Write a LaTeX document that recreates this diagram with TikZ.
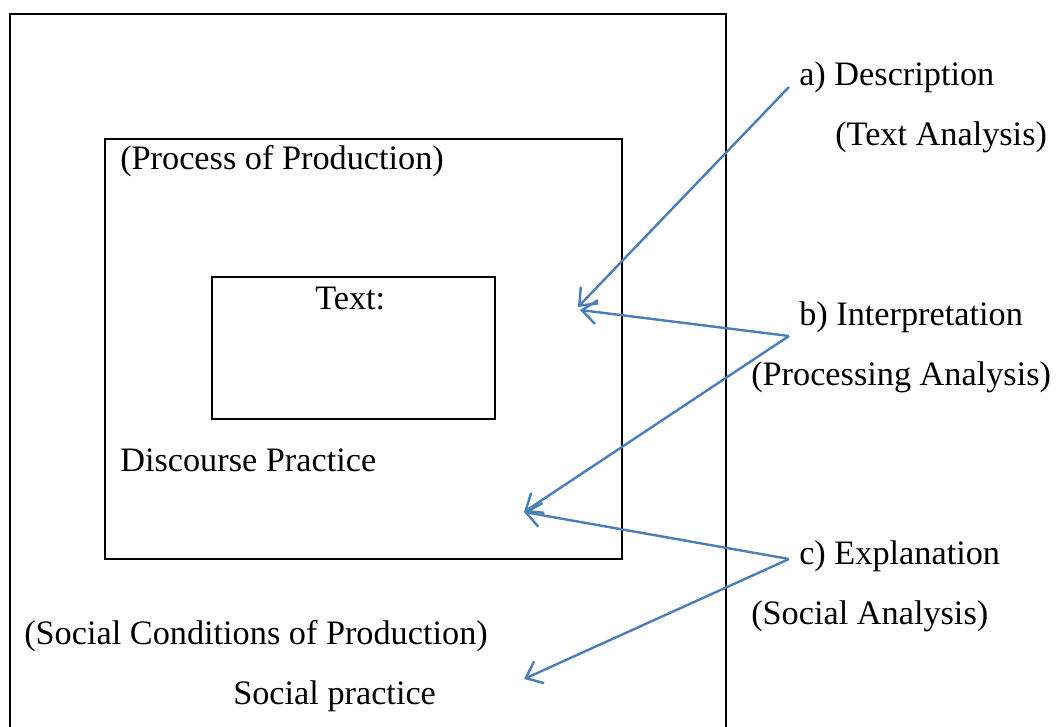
\documentclass[tikz,border=0pt]{standalone}
\usepackage{fontspec}
\setmainfont{Liberation Serif}
\usetikzlibrary{arrows.meta}
\definecolor{arrowblue}{HTML}{4A7EBB}
\tikzset{
    lbl/.style={anchor=base west,inner sep=0pt,font=\fontsize{25.7}{30}\selectfont},
    box/.style={draw,line width=1.7pt},
    pointer/.style={draw=arrowblue,line width=1.8pt,-{Straight Barb[length=11pt,width=18pt,line width=1.8pt]}}
}
\begin{document}
\begin{tikzpicture}[x=0.75pt,y=-0.75pt]
                \useasboundingbox (0,0) rectangle (1057,727);

                % the three frames
                \draw[box] (10,727) -- (10,14) -- (726,14) -- (726,727);
                \draw[box] (105,139) rectangle (622,559);
                \draw[box] (212,277) rectangle (495,419);

                % texts inside the frames
                \node[lbl] (prod) at (120,170) {(Process of Production)};
                \node[lbl] (txt) at (315,310) {Text:};
                \node[lbl] (disc) at (120,471) {Discourse Practice};
                \node[lbl] (cond) at (24,644) {(Social Conditions of Production)};
                \node[lbl] (soc) at (233,704) {Social practice};

                % the three stages
                \node[lbl] (desc) at (799,86) {a) Description};
                \node[lbl] (desca) at (835,146) {(Text Analysis)};
                \node[lbl] (interp) at (799,326) {b) Interpretation};
                \node[lbl] (interpa) at (751,385) {(Processing Analysis)};
                \node[lbl] (expl) at (799,564) {c) Explanation};
                \node[lbl] (expla) at (751,624) {(Social Analysis)};

                \coordinate (a0) at (789,87);
                \coordinate (b0) at (789,336);
                \coordinate (c0) at (789,559);
                \coordinate (ta) at (578,307);
                \coordinate (tb) at (580,310);
                \coordinate (tc) at (524,512);
                \coordinate (td) at (524,679);

                \draw[pointer] (a0) -- (ta);
                \draw[pointer] (b0) -- (tb);
                \draw[pointer] (b0) -- (tc);
                \draw[pointer] (c0) -- (tc);
                \draw[pointer] (c0) -- (td);
\end{tikzpicture}
\end{document}
